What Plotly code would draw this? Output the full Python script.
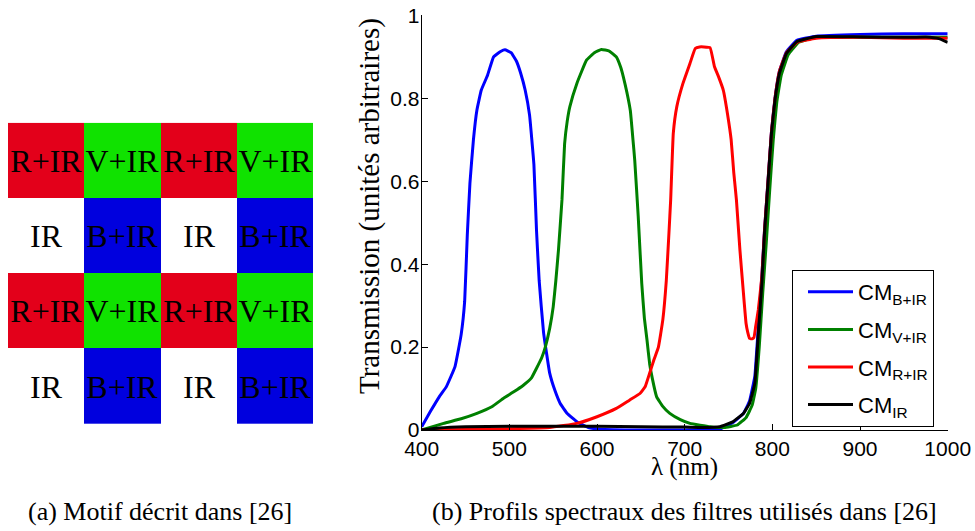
import plotly.graph_objects as go

# ---------------- (a) mosaic pattern ----------------
pattern = [
    ["R+IR", "V+IR", "R+IR", "V+IR"],
    ["IR", "B+IR", "IR", "B+IR"],
    ["R+IR", "V+IR", "R+IR", "V+IR"],
    ["IR", "B+IR", "IR", "B+IR"],
]
label_codes = {"R+IR": 0, "V+IR": 1, "IR": 2, "B+IR": 3}

# ---------------- (b) spectral profiles ----------------
wl_b = [400, 410, 420, 428, 438, 445, 449, 452, 455, 459, 463, 468, 475, 482, 490, 495,
        502, 508, 513, 518, 523, 528, 531, 534, 539, 546, 552, 558, 566, 577, 590, 603,
        650, 700, 740, 755, 767, 774, 780, 784, 788, 791, 795, 799, 803, 808, 816, 828,
        850, 900, 950, 1000]
t_b = [0.008, 0.045, 0.08, 0.104, 0.153, 0.23, 0.31, 0.47, 0.595, 0.70, 0.772, 0.82, 0.855,
       0.90, 0.913, 0.917, 0.91, 0.89, 0.86, 0.82, 0.76, 0.64, 0.48, 0.36, 0.235, 0.137,
       0.095, 0.064, 0.04, 0.02, 0.006, 0.002, 0.0, 0.0, 0.002, 0.018, 0.04, 0.07, 0.13,
       0.25, 0.37, 0.48, 0.60, 0.72, 0.80, 0.865, 0.912, 0.94, 0.95, 0.954, 0.956, 0.956]

wl_g = [400, 425, 445, 463, 480, 493, 505, 516, 525, 531, 537, 541, 546, 550, 553, 556,
        560, 563, 566, 569, 577, 588, 597, 605, 614, 622, 627, 630, 634, 638, 641, 643,
        647, 651, 654, 657, 660, 663, 668, 675, 683, 695, 706, 729, 745, 760, 770, 777,
        781, 785, 789, 793, 797, 801, 805, 810, 818, 830, 850, 900, 950, 1000]
t_g = [0.0, 0.016, 0.027, 0.04, 0.056, 0.076, 0.092, 0.108, 0.125, 0.149, 0.175, 0.20,
       0.245, 0.297, 0.36, 0.434, 0.555, 0.69, 0.745, 0.78, 0.836, 0.892, 0.91, 0.918,
       0.914, 0.90, 0.875, 0.852, 0.815, 0.77, 0.70, 0.651, 0.514, 0.354, 0.27, 0.217,
       0.16, 0.125, 0.08, 0.057, 0.04, 0.025, 0.016, 0.008, 0.006, 0.012, 0.03, 0.06,
       0.10, 0.20, 0.33, 0.45, 0.58, 0.70, 0.79, 0.855, 0.905, 0.935, 0.947, 0.948,
       0.947, 0.947]

wl_r = [400, 450, 500, 546, 577, 600, 622, 637, 649, 655, 660, 665, 670, 675, 679, 682,
        684, 687, 691, 698, 706, 712, 717, 722, 729, 734, 739, 744, 749, 753, 756, 759,
        763, 767, 770, 772, 774, 777, 779, 781, 784, 788, 791, 795, 799, 803, 808, 816,
        828, 850, 900, 950, 1000]
t_r = [0.0, 0.001, 0.003, 0.006, 0.016, 0.032, 0.052, 0.072, 0.088, 0.105, 0.137, 0.17,
       0.20, 0.265, 0.36, 0.474, 0.555, 0.716, 0.78, 0.836, 0.884, 0.92, 0.924, 0.924,
       0.922, 0.876, 0.85, 0.82, 0.76, 0.70, 0.62, 0.555, 0.434, 0.33, 0.257, 0.235,
       0.221, 0.22, 0.223, 0.25, 0.29, 0.37, 0.48, 0.60, 0.72, 0.80, 0.865, 0.91, 0.935,
       0.945, 0.947, 0.945, 0.945]

wl_k = [400, 420, 450, 500, 550, 600, 650, 700, 720, 740, 755, 767, 774, 780, 784, 788,
        791, 795, 799, 803, 808, 816, 828, 850, 900, 950, 975, 990, 1000]
t_k = [0.0, 0.005, 0.008, 0.009, 0.009, 0.009, 0.008, 0.007, 0.006, 0.008, 0.02, 0.04,
       0.064, 0.113, 0.233, 0.354, 0.474, 0.595, 0.716, 0.796, 0.86, 0.908, 0.937, 0.949,
       0.948, 0.947, 0.948, 0.944, 0.935]

x_ticks = [400, 500, 600, 700, 800, 900, 1000]
y_ticks = [0, 0.2, 0.4, 0.6, 0.8, 1]

W, H = 975, 531
SERIF = "Liberation Serif"
SANS = "Liberation Sans"

fig = go.Figure()

# mosaic heatmap
z = [[label_codes[c] for c in row] for row in pattern]
red, green, white, blue = "rgb(227,0,26)", "rgb(16,226,0)", "rgb(255,255,255)", "rgb(0,0,222)"
cs = [[0, red], [1/6, red], [1/6, green], [0.5, green], [0.5, white], [5/6, white],
      [5/6, blue], [1, blue]]
fig.add_trace(go.Heatmap(
    z=z, text=pattern, texttemplate="%{text}",
    textfont=dict(family=SERIF, size=32, color="black"),
    colorscale=cs, zmin=0, zmax=3, showscale=False, hoverinfo="skip",
    xaxis="x2", yaxis="y2", showlegend=False,
))

series = [
    ("CM<sub>B+IR</sub>", wl_b, t_b, "rgb(0,0,255)"),
    ("CM<sub>V+IR</sub>", wl_g, t_g, "rgb(0,128,0)"),
    ("CM<sub>R+IR</sub>", wl_r, t_r, "rgb(255,0,0)"),
    ("CM<sub>IR</sub>", wl_k, t_k, "rgb(0,0,0)"),
]
for i, (name, xs, ys, col) in enumerate(series):
    fig.add_trace(go.Scatter(x=xs, y=ys, name=name, mode="lines", legendgroup=f"g{i}",
                             line=dict(color=col, width=3, shape="spline", smoothing=0.3),
                             xaxis="x", yaxis="y"))

x0, x1 = 421.7, 947.7
y0, y1 = 430.0, 15.4
axis_common = dict(ticks="inside", ticklen=6, tickcolor="black", tickwidth=1,
                   showline=True, linecolor="black", linewidth=1, showgrid=False,
                   zeroline=False, automargin=False,
                   tickfont=dict(family=SANS, size=21, color="black"))
fig.update_layout(
    width=W, height=H, margin=dict(l=0, r=0, t=0, b=0, autoexpand=False),
    paper_bgcolor="white", plot_bgcolor="white",
    showlegend=True,
    xaxis=dict(domain=[x0 / W, x1 / W], range=[400, 1000], tickvals=x_ticks,
               anchor="y", **axis_common),
    yaxis=dict(domain=[(H - y0) / H, (H - y1) / H], range=[0, 1], tickvals=y_ticks,
               anchor="x", ticklabelstandoff=-3, **axis_common),
    xaxis2=dict(domain=[8 / W, 313.3 / W], range=[-0.5, 3.5], visible=False,
                anchor="y2", fixedrange=True, automargin=False),
    yaxis2=dict(domain=[(H - 424) / H, (H - 122.7) / H], range=[3.5, -0.5],
                visible=False, anchor="x2", fixedrange=True, automargin=False),
    legend=dict(x=934 / W, y=(H - 427) / H, xanchor="right", yanchor="bottom",
                bgcolor="white", bordercolor="black", borderwidth=1,
                tracegroupgap=6, itemwidth=45, indentation=10,
                font=dict(family=SANS, size=22, color="black")),
    annotations=[
        dict(text="λ (nm)", x=684 / W, y=(H - 467) / H, xref="paper", yref="paper",
             showarrow=False, font=dict(family=SERIF, size=25, color="black"),
             xanchor="center", yanchor="middle"),
        dict(text="Transmission (unités arbitraires)", x=369 / W, y=(H - 206) / H,
             xref="paper", yref="paper", showarrow=False, textangle=-90,
             font=dict(family=SERIF, size=29, color="black"),
             xanchor="center", yanchor="middle"),
        dict(text="(a) Motif décrit dans [26]", x=160 / W, y=(H - 511) / H,
             xref="paper", yref="paper", showarrow=False,
             font=dict(family=SERIF, size=26, color="black"),
             xanchor="center", yanchor="middle"),
        dict(text="(b) Profils spectraux des filtres utilisés dans [26]", x=684 / W,
             y=(H - 511) / H, xref="paper", yref="paper", showarrow=False,
             font=dict(family=SERIF, size=26, color="black"),
             xanchor="center", yanchor="middle"),
    ],
)

fig.write_html("out.html")
